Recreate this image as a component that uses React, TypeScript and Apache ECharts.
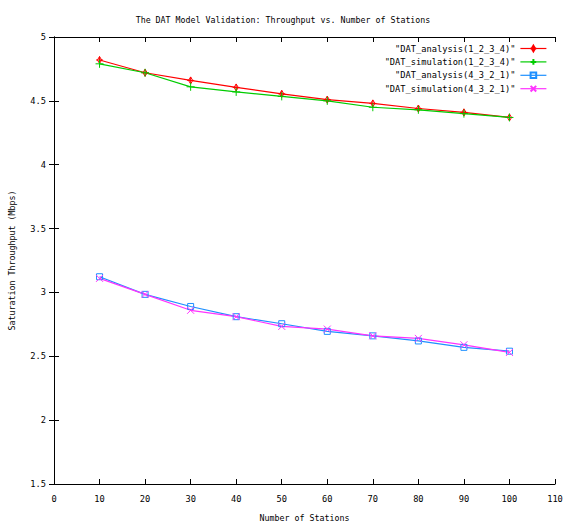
import React, { useEffect, useRef } from "react";
import * as echarts from "echarts";

const stations = [10, 20, 30, 40, 50, 60, 70, 80, 90, 100];
const analysis1234 = [4.82, 4.72, 4.66, 4.605, 4.555, 4.51, 4.48, 4.44, 4.41, 4.37];
const simulation1234 = [4.79, 4.72, 4.61, 4.57, 4.535, 4.5, 4.45, 4.43, 4.4, 4.37];
const analysis4321 = [3.123, 2.985, 2.89, 2.81, 2.755, 2.695, 2.66, 2.62, 2.57, 2.54];
const simulation4321 = [3.11, 2.985, 2.86, 2.81, 2.734, 2.713, 2.66, 2.64, 2.59, 2.53];

const seriesNames = [
  '"DAT_analysis(1_2_3_4)"',
  '"DAT_simulation(1_2_3_4)"',
  '"DAT_analysis(4_3_2_1)"',
  '"DAT_simulation(4_3_2_1)"',
];
const seriesColors = ["#ff0000", "#00cc00", "#1e90ff", "#ff33ff"];
const seriesValues = [analysis1234, simulation1234, analysis4321, simulation4321];
const seriesSymbols = [
  "path://M5,0L8,5L5,10L2,5Z M5,0L5,10 M0,5L10,5",
  "path://M5,0L5,10 M0,5L10,5",
  "path://M0,0L10,0L10,10L0,10Z",
  "path://M0,0L10,10 M10,0L0,10",
];
const symbolSizes = [7, 8, 6, 7];

const FONT = "DejaVu Sans Mono";

export default function App() {
  const ref = useRef<HTMLDivElement>(null);
  useEffect(() => {
    document.body.style.margin = "0";
    if (!ref.current) return;
    const chart = echarts.init(ref.current, undefined, { renderer: "svg" });
    const axisLine = { show: true, lineStyle: { color: "#000", width: 1 } };
    const option: any = {
      animation: false,
      backgroundColor: "#fff",
      title: {
        text: "The DAT Model Validation: Throughput vs. Number of Stations",
        left: "center",
        top: 11,
        textStyle: { fontFamily: FONT, fontSize: 8.3, fontWeight: "normal", color: "#000" },
      },
      grid: { left: 53, right: 11, top: 37, bottom: 40 },
      legend: seriesNames.map((n, i) => ({
        data: [n],
        orient: "vertical",
        right: 19,
        top: 44 + i * 13.4,
        align: "right",
        itemWidth: 26,
        itemHeight: 7,
        lineStyle: { width: 1.2 },
        textStyle: { fontFamily: FONT, fontSize: 8.7, color: "#000" },
        selectedMode: false,
        padding: 0,
      })),
      xAxis: [
        {
          type: "value",
          min: 0,
          max: 110,
          interval: 10,
          position: "bottom",
          name: "Number of Stations",
          nameLocation: "middle",
          nameGap: 30,
          nameTextStyle: { fontFamily: FONT, fontSize: 8.3, color: "#000" },
          axisLine,
          axisTick: { show: true, inside: true, length: 5, lineStyle: { color: "#000" } },
          axisLabel: { fontFamily: FONT, fontSize: 8.7, color: "#000", margin: 10 },
          splitLine: { show: false },
        },
        {
          type: "value",
          min: 0,
          max: 110,
          interval: 10,
          position: "top",
          axisLine,
          axisTick: { show: true, inside: true, length: 5, lineStyle: { color: "#000" } },
          axisLabel: { show: false },
          splitLine: { show: false },
        },
      ],
      yAxis: [
        {
          type: "value",
          min: 1.5,
          max: 5,
          interval: 0.5,
          position: "left",
          name: "Saturation Throughput (Mbps)",
          nameLocation: "middle",
          nameGap: 38,
          nameTextStyle: { fontFamily: FONT, fontSize: 8.3, color: "#000" },
          axisLine,
          axisTick: { show: true, inside: true, length: 5, lineStyle: { color: "#000" } },
          axisLabel: { fontFamily: FONT, fontSize: 8.7, color: "#000", margin: 8 },
          splitLine: { show: false },
        },
        {
          type: "value",
          min: 1.5,
          max: 5,
          interval: 0.5,
          position: "right",
          axisLine,
          axisTick: { show: true, inside: true, length: 5, lineStyle: { color: "#000" } },
          axisLabel: { show: false },
          splitLine: { show: false },
        },
      ],
      series: seriesNames.map((n, i) => ({
        name: n,
        type: "line",
        data: stations.map((x, j) => [x, seriesValues[i][j]]),
        xAxisIndex: 0,
        yAxisIndex: 0,
        symbol: seriesSymbols[i],
        symbolSize: symbolSizes[i],
        showAllSymbol: true,
        lineStyle: { color: seriesColors[i], width: 1.2 },
        itemStyle: {
          color: "rgba(0,0,0,0)",
          borderColor: seriesColors[i],
          borderWidth: 1,
        },
        emphasis: { disabled: true },
      })),
    };
    chart.setOption(option);
    return () => chart.dispose();
  }, []);
  return <div ref={ref} style={{ width: 566, height: 527 }} />;
}
